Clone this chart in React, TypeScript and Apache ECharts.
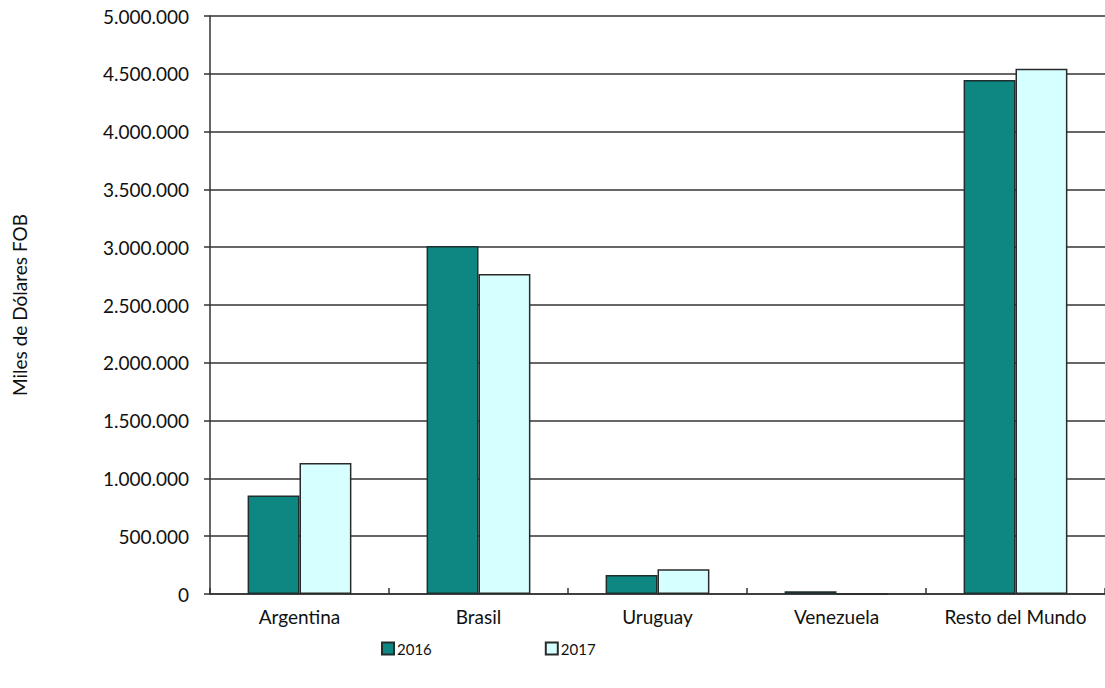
import React, { useEffect, useRef } from "react";
import * as echarts from "echarts";

const categories = ["Argentina", "Brasil", "Uruguay", "Venezuela", "Resto del Mundo"];
const seriesNames = ["2016", "2017"];
const values2016 = [851000, 3010000, 164000, 23000, 4446000];
const values2017 = [1134000, 2768000, 214000, 2000, 4544000];
const yMin = 0;
const yMax = 5000000;
const yInterval = 500000;

const FONT = "Lato";

function fmt(v: number): string {
  return String(Math.round(v)).replace(/\B(?=(\d{3})+(?!\d))/g, ".");
}

export default function App() {
  const ref = useRef<HTMLDivElement>(null);
  useEffect(() => {
    if (!ref.current) return;
    const chart = echarts.init(ref.current, undefined, { renderer: "svg" });
    chart.setOption({
      animation: false,
      backgroundColor: "#ffffff",
      textStyle: { fontFamily: FONT },
      grid: { left: 210, top: 16, bottom: 94, right: -8, containLabel: false },
      legend: {
        data: seriesNames,
        left: 381,
        top: 641,
        padding: 0,
        itemWidth: 12,
        itemHeight: 12,
        itemGap: 113,
        icon: "rect",
        textStyle: { fontFamily: FONT, fontSize: 15, color: "#111", padding: [0, 0, 0, -2] },
      },
      xAxis: {
        type: "category",
        data: categories,
        axisLine: { show: true, lineStyle: { color: "#333", width: 1.5 } },
        axisTick: { show: true, inside: true, length: 6, interval: 0, lineStyle: { color: "#333", width: 1.5 } },
        axisLabel: { fontFamily: FONT, fontSize: 19, color: "#111", margin: 13, interval: 0 },
        splitLine: { show: false },
      },
      yAxis: {
        type: "value",
        min: yMin,
        max: yMax,
        interval: yInterval,
        name: "Miles de Dólares FOB",
        nameLocation: "middle",
        nameRotate: 90,
        nameGap: 181,
        nameTextStyle: { fontFamily: FONT, fontSize: 19, color: "#111" },
        axisLine: { show: true, lineStyle: { color: "#333", width: 1.5 } },
        axisTick: { show: true, inside: false, length: 6, lineStyle: { color: "#333", width: 1.5 } },
        axisLabel: { fontFamily: FONT, fontSize: 19, color: "#111", margin: 21, formatter: (v: number) => fmt(v) },
        splitLine: { show: true, lineStyle: { color: "#333", width: 1.6 } },
      },
      series: [
        {
          name: seriesNames[0],
          type: "bar",
          data: values2016,
          barGap: "0%",
          barCategoryGap: "42%",
          itemStyle: { color: "#0E8783", borderColor: "#1f2f2f", borderWidth: 1.5 },
        },
        {
          name: seriesNames[1],
          type: "bar",
          data: values2017,
          barGap: "0%",
          barCategoryGap: "42%",
          itemStyle: { color: "#D6FFFF", borderColor: "#2a2a2a", borderWidth: 1.5 },
        },
      ],
    });
    return () => chart.dispose();
  }, []);
  return (
    <div
      ref={ref}
      style={{ position: "fixed", left: 0, top: 0, width: 1105, height: 688, background: "#fff" }}
    />
  );
}
